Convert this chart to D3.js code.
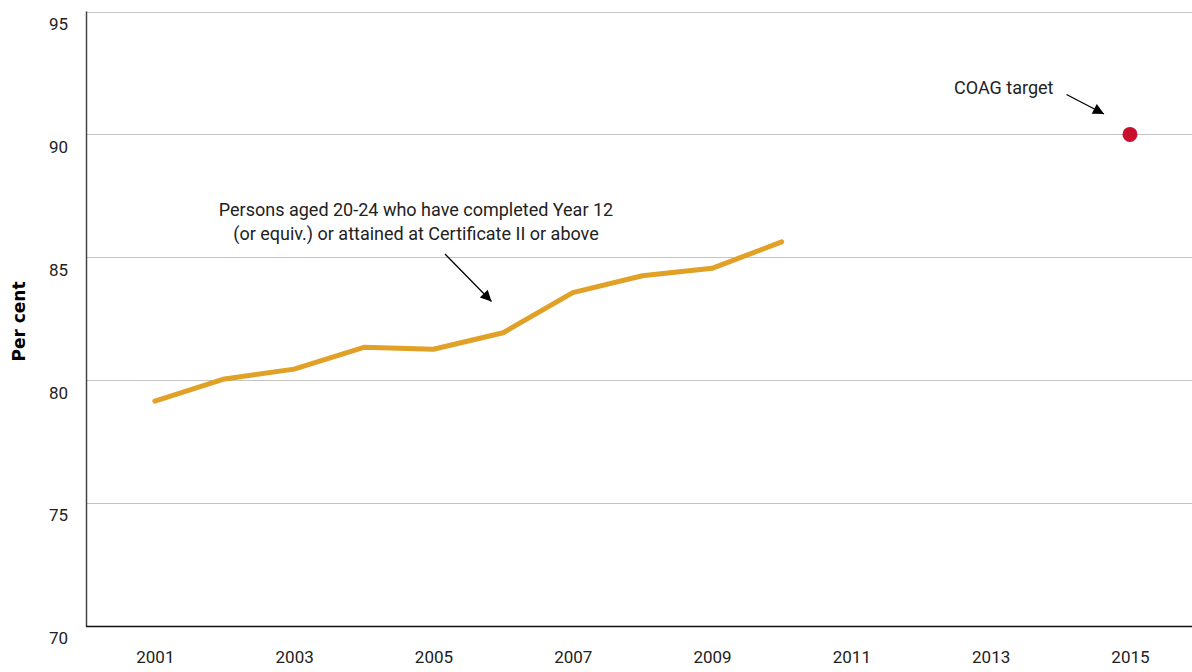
<!DOCTYPE html>
<html>
<head>
<meta charset="utf-8">
<script src="https://cdn.jsdelivr.net/npm/d3@7/dist/d3.min.js"></script>
<style>
  html, body { margin: 0; padding: 0; background: #fff; }
  svg { display: block; }
</style>
</head>
<body>
<svg id="chart" width="1192" height="672"></svg>
<script>
// ---- Data ----
const years = [2001, 2002, 2003, 2004, 2005, 2006, 2007, 2008, 2009, 2010];
const attainment = [79.15, 80.05, 80.45, 81.34, 81.26, 81.93, 83.56, 84.25, 84.55, 85.63];
const targetYear = [2015];
const targetValue = [90];
const xTickLabels = [2001, 2003, 2005, 2007, 2009, 2011, 2013, 2015];
const yTickLabels = [70, 75, 80, 85, 90, 95];
const seriesLabel = ["Persons aged 20-24 who have completed Year 12", "(or equiv.) or attained at Certificate II or above"];
const targetLabel = ["COAG target"];
const yAxisTitle = "Per cent";

// ---- Layout ----
const svg = d3.select("#chart");
const x = d3.scaleLinear().domain([2000, 2016]).range([85.2, 1199.6]);
const y = d3.scaleLinear().domain([70, 95]).range([626, 11.5]);
const left = 86, right = 1192;
const font = "Roboto, 'DejaVu Sans', sans-serif";

// arrow marker
svg.append("defs").append("marker")
  .attr("id", "arrow").attr("viewBox", "0 0 10 10")
  .attr("refX", 10).attr("refY", 5)
  .attr("markerWidth", 13).attr("markerHeight", 11)
  .attr("markerUnits", "userSpaceOnUse")
  .attr("orient", "auto")
  .append("path").attr("d", "M0,0 L10,5 L0,10 Z").attr("fill", "#000");

// gridlines
svg.append("g").selectAll("line").data(yTickLabels.filter(d => d > 70)).join("line")
  .attr("x1", left).attr("x2", right)
  .attr("y1", d => Math.round(y(d)) + 0.5).attr("y2", d => Math.round(y(d)) + 0.5)
  .attr("stroke", "#c4c4c4").attr("stroke-width", 1);

// y axis (labels only via d3 axis)
const yAxis = svg.append("g").attr("transform", `translate(${left},0)`)
  .call(d3.axisLeft(y).tickValues(yTickLabels).tickSize(0).tickPadding(18).tickFormat(d3.format("d")));
yAxis.select(".domain").remove();
yAxis.selectAll("text")
  .attr("font-family", font).attr("font-size", 17).attr("fill", "#222")
  .attr("dy", "1.05em");

// x axis
const xAxis = svg.append("g").attr("transform", `translate(0,626)`)
  .call(d3.axisBottom(x).tickValues(xTickLabels).tickSize(0).tickPadding(25).tickFormat(d3.format("d")));
xAxis.select(".domain").remove();
xAxis.selectAll("text")
  .attr("font-family", font).attr("font-size", 17).attr("fill", "#222");

// axis lines
svg.append("line").attr("x1", left + 0.5).attr("x2", left + 0.5).attr("y1", y(95)).attr("y2", 626.5)
  .attr("stroke", "#444").attr("stroke-width", 1.5);
svg.append("line").attr("x1", left).attr("x2", right).attr("y1", 626.5).attr("y2", 626.5)
  .attr("stroke", "#111").attr("stroke-width", 1.5);

// y axis title
svg.append("text")
  .attr("transform", "translate(25,321.5) rotate(-90)")
  .attr("text-anchor", "middle")
  .attr("font-family", "'DejaVu Sans', sans-serif").attr("font-weight", "bold")
  .attr("font-size", 17).attr("fill", "#000")
  .text(yAxisTitle);

// series line
const data = years.map((yr, i) => ({ yr, v: attainment[i] }));
svg.append("path").datum(data)
  .attr("fill", "none").attr("stroke", "#E0A126").attr("stroke-width", 5)
  .attr("stroke-linejoin", "round").attr("stroke-linecap", "round")
  .attr("d", d3.line().x(d => x(d.yr)).y(d => y(d.v)));

// target dot
svg.append("g").selectAll("circle").data(targetYear.map((yr, i) => ({ yr, v: targetValue[i] }))).join("circle")
  .attr("cx", d => x(d.yr)).attr("cy", d => y(d.v)).attr("r", 7.5)
  .attr("fill", "#C8102E");

// annotations
const ann = svg.append("text").attr("font-family", font).attr("font-size", 18)
  .attr("fill", "#222").attr("text-anchor", "middle");
seriesLabel.forEach((t, i) => {
  ann.append("tspan").attr("x", 416).attr("y", 216 + i * 23.5).text(t);
});
svg.append("line").attr("x1", 445).attr("y1", 254).attr("x2", 491.5).attr("y2", 301.5)
  .attr("stroke", "#000").attr("stroke-width", 1.3).attr("marker-end", "url(#arrow)");

svg.append("text").attr("font-family", font).attr("font-size", 18).attr("fill", "#222")
  .attr("x", 954).attr("y", 94).text(targetLabel[0]);
svg.append("line").attr("x1", 1066.5).attr("y1", 94.5).attr("x2", 1104).attr("y2", 114)
  .attr("stroke", "#000").attr("stroke-width", 1.3).attr("marker-end", "url(#arrow)");
</script>
</body>
</html>
